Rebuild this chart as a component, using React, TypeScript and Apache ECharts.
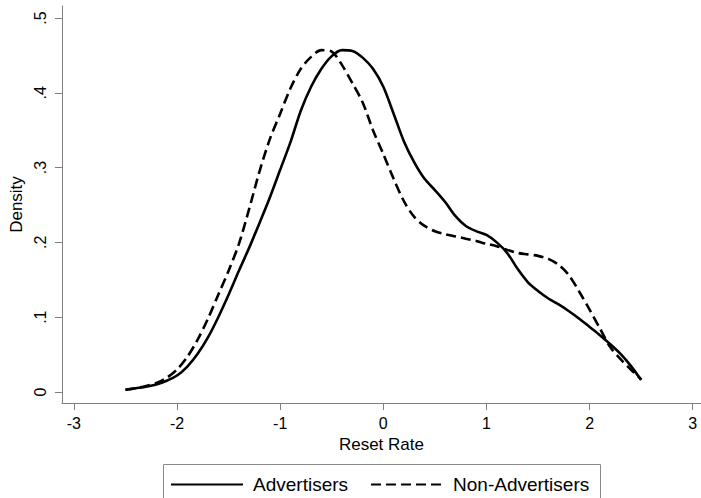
import React, { useEffect, useRef } from "react";
import * as echarts from "echarts";

const xValues = [
  -2.5, -2.4, -2.3, -2.2, -2.1, -2.0, -1.9, -1.8, -1.7, -1.6, -1.5, -1.4, -1.3, -1.2, -1.1, -1.0,
  -0.9, -0.8, -0.7, -0.6, -0.5, -0.4, -0.3, -0.2, -0.1, 0.0, 0.1, 0.2, 0.3, 0.4, 0.5, 0.6, 0.7,
  0.8, 0.9, 1.0, 1.1, 1.2, 1.3, 1.4, 1.5, 1.6, 1.7, 1.8, 1.9, 2.0, 2.1, 2.2, 2.3, 2.4, 2.5,
];

const advertisers = [
  0.003, 0.005, 0.007, 0.01, 0.015, 0.022, 0.034, 0.051, 0.073, 0.1, 0.13, 0.162, 0.193, 0.226,
  0.26, 0.297, 0.334, 0.376, 0.408, 0.432, 0.449, 0.457, 0.456, 0.447, 0.432, 0.408, 0.372, 0.335,
  0.307, 0.285, 0.27, 0.254, 0.235, 0.222, 0.215, 0.21, 0.2, 0.186, 0.165, 0.147, 0.135, 0.125,
  0.117, 0.108, 0.098, 0.087, 0.076, 0.064, 0.051, 0.035, 0.016,
];

const nonAdvertisers = [
  0.003, 0.005, 0.008, 0.012, 0.019, 0.03, 0.047, 0.07, 0.098, 0.13, 0.162, 0.198, 0.245, 0.295,
  0.338, 0.372, 0.406, 0.432, 0.448, 0.457, 0.455, 0.437, 0.413, 0.387, 0.35, 0.318, 0.285, 0.255,
  0.234, 0.222, 0.215, 0.211, 0.208, 0.205, 0.202, 0.198, 0.195, 0.19, 0.186, 0.184, 0.182, 0.178,
  0.17, 0.156, 0.134, 0.11, 0.085, 0.06, 0.044, 0.03, 0.017,
];

const xTicks = [-3, -2, -1, 0, 1, 2, 3];
const xTickLabels = ["-3", "-2", "-1", "0", "1", "2", "3"];
const yTicks = [0, 0.1, 0.2, 0.3, 0.4, 0.5];
const yTickLabels = ["0", ".1", ".2", ".3", ".4", ".5"];

const seriesNames = ["Advertisers", "Non-Advertisers"];

export default function App() {
  const ref = useRef<HTMLDivElement>(null);

  useEffect(() => {
    if (!ref.current) return;
    const chart = echarts.init(ref.current, undefined, { renderer: "svg" });
    const font = "'Liberation Sans', Arial, sans-serif";
    const axisGray = "#7f7f7f";
    const pair = (ys: number[]) => xValues.map((x, i) => [x, ys[i]]);

    chart.setOption({
      animation: false,
      backgroundColor: "#ffffff",
      textStyle: { fontFamily: font },
      grid: { left: 59, right: 0, top: 6, bottom: 95, containLabel: false },
      xAxis: {
        type: "value",
        min: -3.116,
        max: 3.08,
        name: "Reset Rate",
        nameLocation: "middle",
        nameGap: 29,
        nameTextStyle: { color: "#000", fontSize: 17, fontFamily: font },
        axisLine: { show: true, onZero: false, lineStyle: { color: axisGray, width: 1 } },
        axisTick: {
          show: true,
          length: 7,
          customValues: xTicks,
          lineStyle: { color: axisGray, width: 1 },
        },
        axisLabel: {
          customValues: xTicks,
          color: "#000",
          fontSize: 16,
          margin: 12,
          fontFamily: font,
          formatter: (v: number) => {
            const i = xTicks.findIndex((t) => Math.abs(t - v) < 1e-6);
            return i >= 0 ? xTickLabels[i] : "";
          },
        },
        splitLine: { show: false },
      },
      yAxis: {
        type: "value",
        min: -0.0147,
        max: 0.516,
        name: "Density",
        nameLocation: "middle",
        nameGap: 33,
        nameRotate: 90,
        nameTextStyle: { color: "#000", fontSize: 17, fontFamily: font },
        axisLine: { show: true, onZero: false, lineStyle: { color: axisGray, width: 1 } },
        axisTick: {
          show: true,
          length: 7,
          customValues: yTicks,
          lineStyle: { color: axisGray, width: 1 },
        },
        axisLabel: {
          customValues: yTicks,
          rotate: 90,
          color: "#000",
          fontSize: 16,
          margin: 13,
          fontFamily: font,
          formatter: (v: number) => {
            const i = yTicks.findIndex((t) => Math.abs(t - v) < 1e-6);
            return i >= 0 ? yTickLabels[i] : "";
          },
        },
        splitLine: { show: false },
      },
      legend: {
        left: 170,
        top: 475,
        padding: 0,
        itemGap: 22,
        itemWidth: 72,
        itemHeight: 14,
        data: seriesNames,
        itemStyle: { color: "rgba(0,0,0,0)", borderColor: "rgba(0,0,0,0)", borderWidth: 0 },
        textStyle: { color: "#000", fontSize: 19, fontFamily: font, padding: [0, 0, 0, 5] },
      },
      graphic: [
        {
          type: "rect",
          shape: { x: 163.5, y: 464.5, width: 437, height: 60 },
          style: { fill: "none", stroke: "#8a8a8a", lineWidth: 1 },
          silent: true,
          z: 0,
        },
      ],
      series: [
        {
          name: seriesNames[0],
          type: "line",
          data: pair(advertisers),
          showSymbol: false,
          symbol: "none",
          smooth: 0.3,
          lineStyle: { color: "#000", width: 2.6, type: "solid" },
          itemStyle: { color: "#000" },
        },
        {
          name: seriesNames[1],
          type: "line",
          data: pair(nonAdvertisers),
          showSymbol: false,
          symbol: "none",
          smooth: 0.3,
          lineStyle: { color: "#000", width: 2.6, type: [10, 5] },
          itemStyle: { color: "#000" },
        },
      ],
    });

    return () => chart.dispose();
  }, []);

  return (
    <div
      ref={ref}
      style={{ position: "fixed", left: 0, top: 0, width: 701, height: 498, background: "#fff" }}
    />
  );
}
